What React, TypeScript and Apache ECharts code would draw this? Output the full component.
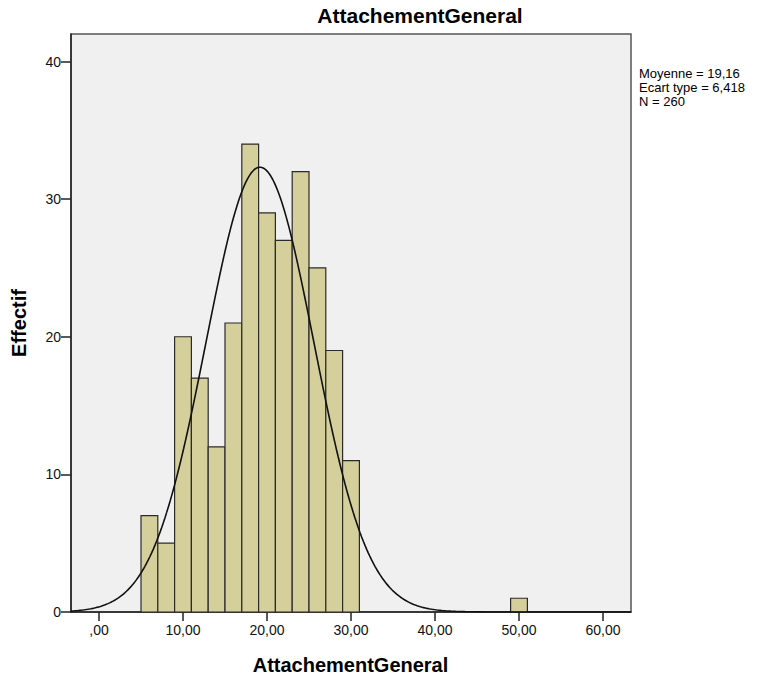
import React, { useEffect, useRef } from "react";
import * as echarts from "echarts";

// Histogram of AttachementGeneral: bins of width 2
const binStarts = [5, 7, 9, 11, 13, 15, 17, 19, 21, 23, 25, 27, 29, 49];
const binCounts = [7, 5, 20, 17, 12, 21, 34, 29, 27, 32, 25, 19, 11, 1];
const binWidth = 2;

// Summary statistics shown beside the plot
const mean = 19.16;
const stdDev = 6.418;
const total = 260;

const xTicks = [0, 10, 20, 30, 40, 50, 60];
const yTicks = [0, 10, 20, 30, 40];

const X_MIN = -10 / 3;
const X_MAX = 190 / 3;
const Y_MAX = 42;

const FONT = "'Liberation Sans', Arial, sans-serif";

const fmt = (v: number, d: number) => v.toFixed(d).replace(".", ",");

export default function App() {
  const ref = useRef<HTMLDivElement>(null);

  useEffect(() => {
    if (!ref.current) return;
    const chart = echarts.init(ref.current, undefined, { renderer: "svg" });

    const bars = binStarts.map((s, i) => [s, s + binWidth, binCounts[i]]);

    // Fitted normal curve, scaled to counts per bin
    const curve: number[][] = [];
    const scale = (total * binWidth) / (stdDev * Math.sqrt(2 * Math.PI));
    for (let x = X_MIN; x <= X_MAX + 1e-9; x += 0.2) {
      const z = (x - mean) / stdDev;
      curve.push([x, scale * Math.exp(-0.5 * z * z)]);
    }

    chart.setOption({
      animation: false,
      backgroundColor: "#ffffff",
      grid: {
        left: 71,
        right: 130,
        top: 34,
        bottom: 67,
        show: true,
        backgroundColor: "#f0f0f0",
        borderColor: "#555555",
        borderWidth: 1.5,
      },
      xAxis: {
        type: "value",
        min: X_MIN,
        max: X_MAX,
        splitLine: { show: false },
        axisLine: { show: true, onZero: false, lineStyle: { color: "#222", width: 1.5 } },
        axisTick: {
          show: true,
          customValues: xTicks,
          length: 9,
          lineStyle: { color: "#222", width: 1.5 },
        },
        axisLabel: {
          customValues: xTicks,
          margin: 11,
          fontSize: 14,
          fontFamily: FONT,
          color: "#111",
          formatter: (v: number) => (v === 0 ? ",00" : fmt(v, 2)),
        },
      },
      yAxis: {
        type: "value",
        min: 0,
        max: Y_MAX,
        splitLine: { show: false },
        axisLine: { show: true, onZero: false, lineStyle: { color: "#222", width: 1.5 } },
        axisTick: {
          show: true,
          customValues: yTicks,
          length: 10,
          lineStyle: { color: "#222", width: 1.5 },
        },
        axisLabel: {
          customValues: yTicks,
          margin: 10,
          fontSize: 14,
          fontFamily: FONT,
          color: "#111",
        },
      },
      series: [
        {
          type: "custom",
          data: bars,
          encode: { x: [0, 1], y: 2 },
          renderItem: (params: any, api: any) => {
            const p0 = api.coord([api.value(0), api.value(2)]);
            const p1 = api.coord([api.value(1), 0]);
            return {
              type: "rect",
              shape: { x: p0[0], y: p0[1], width: p1[0] - p0[0], height: p1[1] - p0[1] },
              style: { fill: "#d4cf9b", stroke: "#2b2b2b", lineWidth: 1.2 },
            };
          },
          z: 2,
        },
        {
          type: "line",
          data: curve,
          showSymbol: false,
          smooth: false,
          lineStyle: { color: "#111", width: 1.6 },
          z: 3,
        },
      ],
      graphic: [
        {
          type: "text",
          x: 420,
          y: 15,
          style: {
            text: "AttachementGeneral",
            font: `bold 21px ${FONT}`,
            fill: "#000",
            align: "center",
            verticalAlign: "middle",
          },
        },
        {
          type: "text",
          x: 350.5,
          y: 665,
          style: {
            text: "AttachementGeneral",
            font: `bold 20px ${FONT}`,
            fill: "#000",
            align: "center",
            verticalAlign: "middle",
          },
        },
        {
          type: "text",
          x: 19,
          y: 323,
          rotation: Math.PI / 2,
          style: {
            text: "Effectif",
            font: `bold 20px ${FONT}`,
            fill: "#000",
            align: "center",
            verticalAlign: "middle",
          },
        },
        {
          type: "text",
          x: 639,
          y: 66,
          style: {
            text: `Moyenne = ${fmt(mean, 2)}\nEcart type = ${fmt(stdDev, 3)}\nN = ${total}`,
            font: `13px ${FONT}`,
            lineHeight: 14,
            fill: "#000",
            align: "left",
            verticalAlign: "top",
          },
        },
      ],
    });

    return () => chart.dispose();
  }, []);

  return (
    <div
      ref={ref}
      style={{ position: "fixed", left: 0, top: 0, width: 761, height: 679 }}
    />
  );
}
